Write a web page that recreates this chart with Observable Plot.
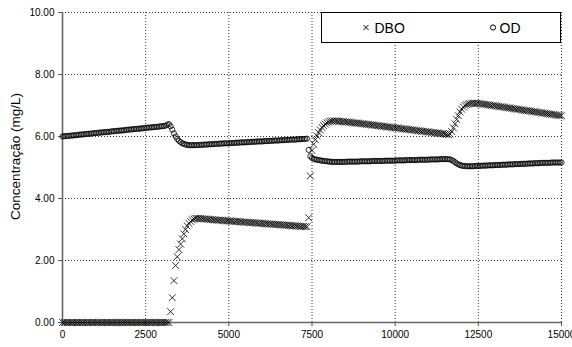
<!DOCTYPE html>
<html>
<head>
<meta charset="utf-8">
<script src="https://cdn.jsdelivr.net/npm/d3@7"></script>
<script src="https://cdn.jsdelivr.net/npm/@observablehq/plot@0.6"></script>
<style>
  html, body { margin: 0; padding: 0; background: #fff; }
  #chart { position: relative; width: 572px; height: 347px; }
</style>
</head>
<body>
<div id="chart"></div>
<script>
// Distance grid (m), one sample every 50 m from 0 to 15000
const step = 50;
const xTicks = [0, 2500, 5000, 7500, 10000, 12500, 15000];
const yTicks = [0, 2, 4, 6, 8, 10];
const yLabel = "Concentração (mg/L)";
const seriesNames = ["DBO", "OD"];

// DBO (mg/L), rows of 10 samples (500 m per row)
const dboValues = [
  0,0,0,0,0,0,0,0,0,0,
  0,0,0,0,0,0,0,0,0,0,
  0,0,0,0,0,0,0,0,0,0,
  0,0,0,0,0,0,0,0,0,0,
  0,0,0,0,0,0,0,0,0,0,
  0,0,0,0,0,0,0,0,0,0,
  0,0,0,0,0,0.35,0.80,1.35,1.84,2.12,
  2.35,2.53,2.70,2.86,3.00,3.11,3.20,3.26,3.31,3.34,
  3.36,3.36,3.36,3.35,3.35,3.34,3.34,3.33,3.33,3.32,
  3.32,3.31,3.31,3.30,3.30,3.30,3.29,3.29,3.28,3.28,
  3.28,3.27,3.27,3.26,3.26,3.26,3.25,3.25,3.24,3.24,
  3.24,3.23,3.23,3.22,3.22,3.22,3.21,3.21,3.20,3.20,
  3.20,3.19,3.19,3.18,3.18,3.18,3.17,3.17,3.16,3.16,
  3.16,3.15,3.15,3.14,3.14,3.14,3.13,3.13,3.12,3.12,
  3.12,3.11,3.11,3.10,3.10,3.10,3.09,3.09,3.38,4.73,
  5.55,5.75,5.90,6.02,6.12,6.21,6.29,6.35,6.40,6.44,
  6.47,6.49,6.50,6.50,6.50,6.50,6.49,6.49,6.48,6.48,
  6.47,6.47,6.46,6.46,6.45,6.44,6.44,6.43,6.43,6.42,
  6.41,6.41,6.40,6.39,6.39,6.38,6.37,6.37,6.36,6.35,
  6.35,6.34,6.33,6.33,6.32,6.31,6.31,6.30,6.29,6.29,
  6.28,6.27,6.27,6.26,6.25,6.25,6.24,6.23,6.23,6.22,
  6.21,6.21,6.20,6.19,6.19,6.18,6.17,6.17,6.16,6.15,
  6.15,6.14,6.13,6.13,6.12,6.11,6.11,6.10,6.09,6.09,
  6.08,6.07,6.06,6.08,6.16,6.28,6.41,6.55,6.67,6.79,
  6.88,6.95,7.00,7.03,7.05,7.06,7.07,7.07,7.07,7.07,
  7.07,7.06,7.05,7.04,7.04,7.03,7.02,7.01,7.00,7.00,
  6.99,6.98,6.97,6.96,6.96,6.95,6.94,6.93,6.92,6.92,
  6.91,6.90,6.89,6.88,6.88,6.87,6.86,6.85,6.84,6.84,
  6.83,6.82,6.81,6.80,6.80,6.79,6.78,6.77,6.76,6.76,
  6.75,6.74,6.73,6.72,6.72,6.71,6.70,6.69,6.68,6.68,
  6.67
];

// OD (mg/L), rows of 10 samples (500 m per row)
const odValues = [
  6.00,6.01,6.01,6.02,6.02,6.03,6.03,6.04,6.04,6.05,
  6.06,6.06,6.07,6.07,6.08,6.08,6.09,6.09,6.10,6.11,
  6.11,6.12,6.12,6.13,6.13,6.14,6.14,6.15,6.15,6.16,
  6.17,6.17,6.18,6.18,6.19,6.19,6.20,6.20,6.21,6.22,
  6.22,6.23,6.23,6.24,6.24,6.25,6.25,6.26,6.26,6.27,
  6.28,6.28,6.29,6.29,6.30,6.30,6.31,6.31,6.32,6.33,
  6.33,6.34,6.35,6.38,6.40,6.33,6.22,6.10,6.00,5.92,
  5.86,5.82,5.78,5.76,5.74,5.73,5.72,5.72,5.72,5.72,
  5.72,5.72,5.73,5.73,5.73,5.74,5.74,5.74,5.75,5.75,
  5.75,5.76,5.76,5.76,5.77,5.77,5.77,5.78,5.78,5.78,
  5.78,5.79,5.79,5.79,5.80,5.80,5.80,5.81,5.81,5.81,
  5.81,5.82,5.82,5.82,5.83,5.83,5.83,5.84,5.84,5.84,
  5.84,5.85,5.85,5.85,5.86,5.86,5.86,5.87,5.87,5.87,
  5.87,5.88,5.88,5.88,5.89,5.89,5.89,5.90,5.90,5.90,
  5.90,5.91,5.91,5.91,5.92,5.92,5.92,5.93,5.57,5.36,
  5.31,5.28,5.26,5.25,5.24,5.23,5.22,5.21,5.21,5.20,
  5.19,5.19,5.18,5.18,5.18,5.18,5.18,5.18,5.18,5.18,
  5.18,5.19,5.19,5.19,5.19,5.19,5.19,5.19,5.19,5.20,
  5.20,5.20,5.20,5.20,5.20,5.20,5.21,5.21,5.21,5.21,
  5.21,5.21,5.21,5.21,5.22,5.22,5.22,5.22,5.22,5.22,
  5.22,5.23,5.23,5.23,5.23,5.23,5.23,5.24,5.24,5.24,
  5.24,5.24,5.24,5.24,5.25,5.25,5.25,5.25,5.25,5.25,
  5.25,5.26,5.26,5.26,5.26,5.26,5.26,5.27,5.27,5.27,
  5.27,5.27,5.27,5.26,5.24,5.21,5.17,5.13,5.10,5.08,
  5.06,5.05,5.05,5.04,5.04,5.04,5.04,5.04,5.05,5.05,
  5.05,5.05,5.06,5.06,5.06,5.06,5.07,5.07,5.07,5.07,
  5.08,5.08,5.08,5.08,5.09,5.09,5.09,5.09,5.10,5.10,
  5.10,5.10,5.11,5.11,5.11,5.11,5.12,5.12,5.12,5.12,
  5.13,5.13,5.13,5.13,5.14,5.14,5.14,5.14,5.15,5.15,
  5.15,5.15,5.15,5.15,5.16,5.16,5.16,5.16,5.16,5.16,
  5.16
];

const dbo = dboValues.map((v, i) => ({x: i * step, y: v}));
const od = odValues.map((v, i) => ({x: i * step, y: v}));

const font = "'Liberation Sans', Arial, sans-serif";

const chart = Plot.plot({
  width: 572,
  height: 347,
  marginLeft: 62,
  marginRight: 11,
  marginTop: 12,
  marginBottom: 25,
  style: {fontFamily: font, fontSize: "10px", color: "#000", background: "#fff", overflow: "visible"},
  x: {domain: [0, 15000]},
  y: {domain: [0, 10]},
  marks: [
    Plot.gridX(xTicks.slice(1), {stroke: "#333", strokeOpacity: 1, strokeWidth: 1, strokeDasharray: "1,2"}),
    Plot.gridY(yTicks.slice(1), {stroke: "#333", strokeOpacity: 1, strokeWidth: 1, strokeDasharray: "1,2"}),
    Plot.axisX(xTicks, {tickSize: 4, tickPadding: 4, tickFormat: d => String(d), label: null, stroke: "#555"}),
    Plot.axisY(yTicks, {tickSize: 4, tickPadding: 4, tickFormat: d => d.toFixed(2), label: null, stroke: "#555"}),
    Plot.ruleX([0], {stroke: "#666", strokeWidth: 1.6}),
    Plot.ruleY([0], {stroke: "#666", strokeWidth: 1.6}),
    Plot.dot(od, {x: "x", y: "y", symbol: "circle", r: 2.6, fill: "none", stroke: "#000", strokeWidth: 0.8}),
    Plot.dot(dbo, {x: "x", y: "y", symbol: "times", r: 3.2, stroke: "#000", strokeWidth: 0.8}),
    Plot.text([yLabel], {frameAnchor: "left", textAnchor: "middle", dx: -47, dy: -11, rotate: -90, fontSize: 13.5, fill: "#000"})
  ]
});

document.getElementById("chart").appendChild(chart);

// Legend box drawn inside the SVG
const svg = d3.select(chart);
const lg = svg.append("g").attr("font-family", font).attr("font-size", 14).attr("text-anchor", "start");
lg.append("rect").attr("x", 321.5).attr("y", 12.5).attr("width", 239).attr("height", 30)
  .attr("fill", "#fff").attr("stroke", "#000").attr("stroke-width", 1);
// × DBO
lg.append("path").attr("d", "M363.5,25L368.5,30M368.5,25L363.5,30").attr("stroke", "#000").attr("stroke-width", 1).attr("fill", "none");
lg.append("text").attr("x", 374.5).attr("y", 32.5).attr("text-anchor", "start").text(seriesNames[0]);
// ○ OD
lg.append("circle").attr("cx", 493).attr("cy", 27.5).attr("r", 2.6).attr("fill", "none").attr("stroke", "#000").attr("stroke-width", 1);
lg.append("text").attr("x", 499.5).attr("y", 32.5).attr("text-anchor", "start").text(seriesNames[1]);
</script>
</body>
</html>
